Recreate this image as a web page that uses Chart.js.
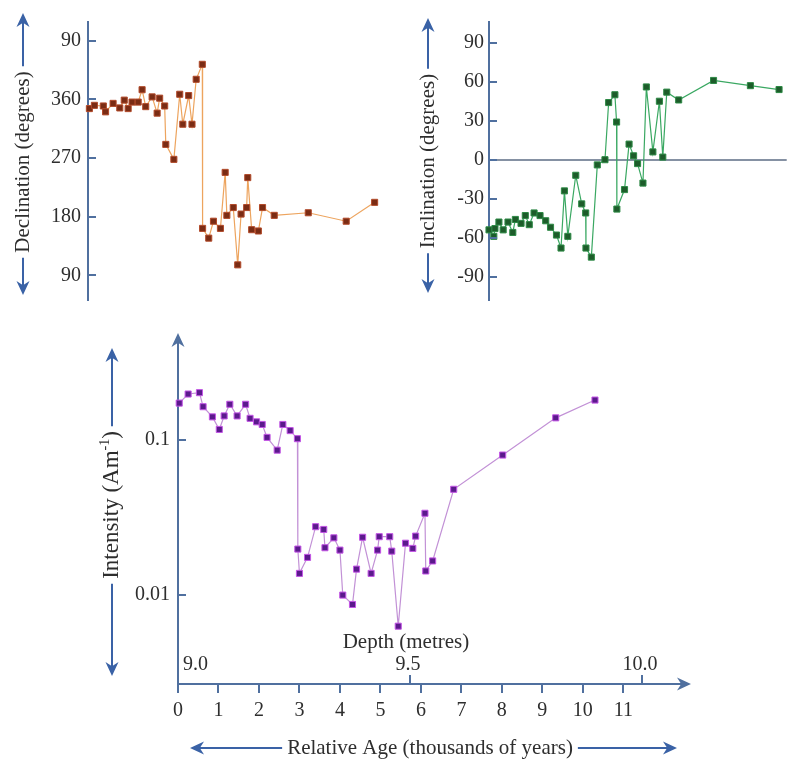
<!DOCTYPE html>
<html>
<head>
<meta charset="utf-8">
<title>Declination, inclination and intensity with age</title>
<script src="https://cdn.jsdelivr.net/npm/chart.js@4.4.1/dist/chart.umd.min.js"></script>
<style>
  html, body { margin: 0; padding: 0; background: #fff; }
  #wrap { position: relative; width: 792px; height: 762px; overflow: hidden; }
  canvas { position: absolute; }
  #decChart { left: 0; top: 0; }
  #incChart { left: 400px; top: 0; }
  #intChart { left: 0; top: 315px; }
</style>
</head>
<body>
<div id="wrap">
  <canvas id="decChart" width="400" height="330"></canvas>
  <canvas id="incChart" width="392" height="330"></canvas>
  <canvas id="intChart" width="792" height="447"></canvas>
</div>
<script>
// Declination (degrees) against relative age
const decAge = [0.05, 0.23, 0.55, 0.63, 0.9, 1.14, 1.3, 1.44, 1.58, 1.8, 1.94, 2.07, 2.3, 2.48, 2.57, 2.75, 2.79, 3.08, 3.29, 3.4, 3.61, 3.73, 3.88, 4.1, 4.11, 4.33, 4.5, 4.75, 4.92, 4.98, 5.21, 5.37, 5.49, 5.69, 5.73, 5.87, 6.11, 6.26, 6.68, 7.9, 9.26, 10.28];
const decValues = [346, 351, 350, 341, 354, 347, 359, 346, 356, 356, 375, 349, 364, 339, 362, 350, 291, 268, 368, 322, 366, 322, 391, 414, 162, 147, 173, 162, 248, 182, 194, 106, 184, 194, 240, 160, 158, 194, 182, 186, 173, 202];
const decTicks = [90, 180, 270, 360, 450];

// Inclination (degrees)
const incAge = [0, 0.17, 0.21, 0.35, 0.5, 0.67, 0.84, 0.93, 1.13, 1.28, 1.42, 1.59, 1.8, 2.0, 2.17, 2.38, 2.54, 2.66, 2.78, 3.06, 3.27, 3.41, 3.42, 3.61, 3.82, 4.09, 4.22, 4.44, 4.5, 4.51, 4.78, 4.94, 5.1, 5.24, 5.43, 5.55, 5.78, 6.01, 6.13, 6.27, 6.69, 7.92, 9.22, 10.23];
const incValues = [-54, -59, -53, -48, -54, -48, -56, -46, -49, -43, -50, -41, -43, -47, -52, -58, -68, -24, -59, -12, -34, -41, -68, -75, -4, 0, 44, 50, 29, -38, -23, 12, 3, -3, -18, 56, 6, 45, 2, 52, 46, 61, 57, 54];
const incTicks = [-90, -60, -30, 0, 30, 60, 90];

// Intensity (A/m), log scale
const intAge = [0.03, 0.25, 0.53, 0.62, 0.85, 1.02, 1.14, 1.28, 1.46, 1.67, 1.78, 1.94, 2.08, 2.2, 2.45, 2.59, 2.77, 2.95, 2.96, 3.0, 3.2, 3.4, 3.6, 3.63, 3.85, 4.0, 4.07, 4.31, 4.41, 4.56, 4.77, 4.93, 4.97, 5.23, 5.28, 5.44, 5.62, 5.8, 5.87, 6.1, 6.12, 6.29, 6.81, 8.02, 9.33, 10.3];
const intValues = [0.173, 0.198, 0.202, 0.164, 0.141, 0.117, 0.143, 0.170, 0.143, 0.170, 0.138, 0.131, 0.126, 0.104, 0.086, 0.126, 0.115, 0.102, 0.0198, 0.0138, 0.0175, 0.0276, 0.0265, 0.0202, 0.0234, 0.0195, 0.0100, 0.0087, 0.0147, 0.0236, 0.0138, 0.0195, 0.0238, 0.0238, 0.0192, 0.0063, 0.0216, 0.0200, 0.0240, 0.0337, 0.0143, 0.0166, 0.0481, 0.080, 0.139, 0.181];
const intTicks = [0.01, 0.1];

// Bottom axes
const ageTicks = [0, 1, 2, 3, 4, 5, 6, 7, 8, 9, 10, 11];
const depthTicks = [9.0, 9.5, 10.0];
const depthLabels = ["9.0", "9.5", "10.0"];
const agePerMetre = 11.46;

const serif = "'Liberation Serif', 'Times New Roman', serif";
const axisBlue = "#50709f";
const arrowBlue = "#3a62a6";
const textColor = "#2e2e2e";

function fixedTicks(values) {
  return function (scale) {
    scale.ticks = values.map((v) => ({ value: v }));
  };
}

function toPoints(xs, ys) {
  return xs.map((x, i) => ({ x: x, y: ys[i] }));
}

// Arrow from (x1,y1) to tip at (x2,y2)
function arrowLine(ctx, x1, y1, x2, y2) {
  const ang = Math.atan2(y2 - y1, x2 - x1);
  const c = Math.cos(ang), s = Math.sin(ang);
  const hl = 14, hw = 6.5;
  ctx.beginPath();
  ctx.moveTo(x1, y1);
  ctx.lineTo(x2 - hl * 0.6 * c, y2 - hl * 0.6 * s);
  ctx.stroke();
  ctx.beginPath();
  ctx.moveTo(x2, y2);
  ctx.lineTo(x2 - hl * c + hw * s, y2 - hl * s - hw * c);
  ctx.lineTo(x2 - hl * 0.7 * c, y2 - hl * 0.7 * s);
  ctx.lineTo(x2 - hl * c - hw * s, y2 - hl * s + hw * c);
  ctx.closePath();
  ctx.fill();
}

// Title text with an arrow on each side
function drawArrowTitle(ctx, parts, cx, cy, angle, posTip, negTip) {
  ctx.save();
  ctx.translate(cx, cy);
  ctx.rotate(angle);
  let total = 0;
  parts.forEach((p) => {
    ctx.font = p.font;
    p.w = ctx.measureText(p.text).width;
    total += p.w;
  });
  ctx.fillStyle = textColor;
  ctx.textBaseline = "middle";
  ctx.textAlign = "left";
  let pos = -total / 2;
  parts.forEach((p) => {
    ctx.font = p.font;
    ctx.fillText(p.text, pos, p.dy || 0);
    pos += p.w;
  });
  ctx.strokeStyle = arrowBlue;
  ctx.fillStyle = arrowBlue;
  ctx.lineWidth = 2;
  arrowLine(ctx, total / 2 + 5, 0, posTip, 0);
  arrowLine(ctx, -total / 2 - 5, 0, -negTip, 0);
  ctx.restore();
}

function innerTicks(ctx, scale, len) {
  ctx.save();
  ctx.strokeStyle = axisBlue;
  ctx.lineWidth = 2;
  scale.ticks.forEach((t) => {
    const y = Math.round(scale.getPixelForValue(t.value));
    ctx.beginPath();
    ctx.moveTo(scale.right, y);
    ctx.lineTo(scale.right + len, y);
    ctx.stroke();
  });
  ctx.restore();
}

function yAxisOptions(extra) {
  return Object.assign({
    grid: { drawOnChartArea: false, drawTicks: false },
    border: { color: axisBlue, width: 2 },
    ticks: { color: textColor, font: { family: serif, size: 20 }, padding: 7 },
  }, extra);
}

function seriesStyle(line, fill, edge) {
  return {
    borderColor: line,
    borderWidth: 1.2,
    pointStyle: "rect",
    pointRadius: 4.3,
    pointBackgroundColor: fill,
    pointBorderColor: edge,
    pointBorderWidth: 1,
    tension: 0,
    clip: false,
  };
}

const baseOptions = {
  responsive: false,
  animation: false,
  events: [],
  plugins: { legend: { display: false }, tooltip: { enabled: false } },
};

document.addEventListener("DOMContentLoaded", function () {
  // Declination panel
  new Chart(document.getElementById("decChart"), {
    type: "line",
    data: {
      datasets: [Object.assign({ data: toPoints(decAge, decValues) }, seriesStyle("#eda45e", "#7a2c14", "#b24a2a"))],
    },
    options: Object.assign({}, baseOptions, {
      layout: { padding: { top: 22, bottom: 30, left: 0, right: 4 } },
      scales: {
        x: { type: "linear", display: false, min: 0, max: 11 },
        y: yAxisOptions({
          min: 52,
          max: 479,
          afterFit: (s) => { s.width = 88; },
          afterBuildTicks: fixedTicks(decTicks),
          ticks: {
            color: textColor, font: { family: serif, size: 20 }, padding: 7,
            callback: (v) => (v > 360 ? v - 360 : v),
          },
        }),
      },
    }),
    plugins: [{
      id: "decDecor",
      afterDraw(chart) {
        const ctx = chart.ctx;
        innerTicks(ctx, chart.scales.y, 8);
        drawArrowTitle(ctx, [{ text: "Declination (degrees)", font: "21px " + serif }], 23, 162, -Math.PI / 2, 149, 133);
      },
    }],
  });

  // Inclination panel
  new Chart(document.getElementById("incChart"), {
    type: "line",
    data: {
      datasets: [Object.assign({ data: toPoints(incAge, incValues) }, seriesStyle("#3aa862", "#1d5c2a", "#2e8a46"))],
    },
    options: Object.assign({}, baseOptions, {
      layout: { padding: { top: 22, bottom: 30, left: 0, right: 0 } },
      scales: {
        x: { type: "linear", display: false, min: 0, max: 10.5 },
        y: yAxisOptions({
          min: -108,
          max: 106,
          afterFit: (s) => { s.width = 89; },
          afterBuildTicks: fixedTicks(incTicks),
          ticks: { color: textColor, font: { family: serif, size: 20 }, padding: 5 },
        }),
      },
    }),
    plugins: [{
      id: "incDecor",
      beforeDatasetsDraw(chart) {
        const { ctx, chartArea, scales } = chart;
        const y0 = Math.round(scales.y.getPixelForValue(0));
        ctx.save();
        ctx.strokeStyle = "#5c6c84";
        ctx.lineWidth = 1.5;
        ctx.beginPath();
        ctx.moveTo(chartArea.left, y0);
        ctx.lineTo(chartArea.right, y0);
        ctx.stroke();
        ctx.restore();
      },
      afterDraw(chart) {
        const ctx = chart.ctx;
        innerTicks(ctx, chart.scales.y, 8);
        drawArrowTitle(ctx, [{ text: "Inclination (degrees)", font: "21px " + serif }], 28, 161, -Math.PI / 2, 143, 132);
      },
    }],
  });

  // Intensity panel with age and depth axes
  new Chart(document.getElementById("intChart"), {
    type: "line",
    data: {
      datasets: [Object.assign({ data: toPoints(intAge, intValues) }, seriesStyle("#c291d6", "#5b1a8c", "#c455e6"))],
    },
    options: Object.assign({}, baseOptions, {
      layout: { padding: { top: 25, bottom: 0, left: 0, right: 112 } },
      scales: {
        x: {
          type: "linear",
          min: 0,
          max: 12.4,
          afterFit: (s) => { s.height = 78; },
          afterBuildTicks: fixedTicks(ageTicks),
          grid: { drawOnChartArea: false, drawTicks: true, tickLength: 9, color: axisBlue, lineWidth: 2 },
          border: { color: axisBlue, width: 2 },
          ticks: { color: textColor, font: { family: serif, size: 20 }, padding: 6 },
        },
        y: yAxisOptions({
          type: "logarithmic",
          min: 0.00267,
          max: 0.4416,
          afterFit: (s) => { s.width = 178; },
          afterBuildTicks: fixedTicks(intTicks),
          ticks: {
            color: textColor, font: { family: serif, size: 20 }, padding: 8,
            callback: (v) => String(v),
          },
        }),
      },
    }),
    plugins: [{
      id: "intDecor",
      afterDraw(chart) {
        const { ctx, chartArea, scales } = chart;
        const xs = scales.x;
        const bottom = chartArea.bottom;
        innerTicks(ctx, scales.y, 8);

        ctx.save();
        ctx.strokeStyle = axisBlue;
        ctx.fillStyle = axisBlue;
        ctx.lineWidth = 2;
        arrowLine(ctx, chartArea.left, chartArea.top, chartArea.left, 18);
        arrowLine(ctx, chartArea.right, bottom, 691, bottom);

        // depth scale on top of the age axis
        ctx.fillStyle = textColor;
        ctx.font = "20px " + serif;
        ctx.textBaseline = "middle";
        depthTicks.forEach((d, i) => {
          const px = Math.round(xs.getPixelForValue((d - depthTicks[0]) * agePerMetre));
          if (i > 0) {
            ctx.beginPath();
            ctx.moveTo(px, bottom);
            ctx.lineTo(px, bottom - 9);
            ctx.stroke();
          }
          ctx.textAlign = i === 0 ? "left" : "center";
          ctx.fillText(depthLabels[i], i === 0 ? px + 5 : px - 2, bottom - 19);
        });
        const midDepth = xs.getPixelForValue((depthTicks[1] - depthTicks[0]) * agePerMetre);
        ctx.font = "21px " + serif;
        ctx.textAlign = "center";
        ctx.fillText("Depth (metres)", midDepth - 4, bottom - 42);
        ctx.restore();

        drawArrowTitle(ctx, [
          { text: "Intensity (Am", font: "23px " + serif },
          { text: "-1", font: "14px " + serif, dy: -7 },
          { text: ")", font: "23px " + serif },
        ], 112, 190, -Math.PI / 2, 157, 171);
        drawArrowTitle(ctx, [{ text: "Relative Age (thousands of years)", font: "21px " + serif }], 430, bottom + 64, 0, 247, 240);
      },
    }],
  });
});
</script>
</body>
</html>
